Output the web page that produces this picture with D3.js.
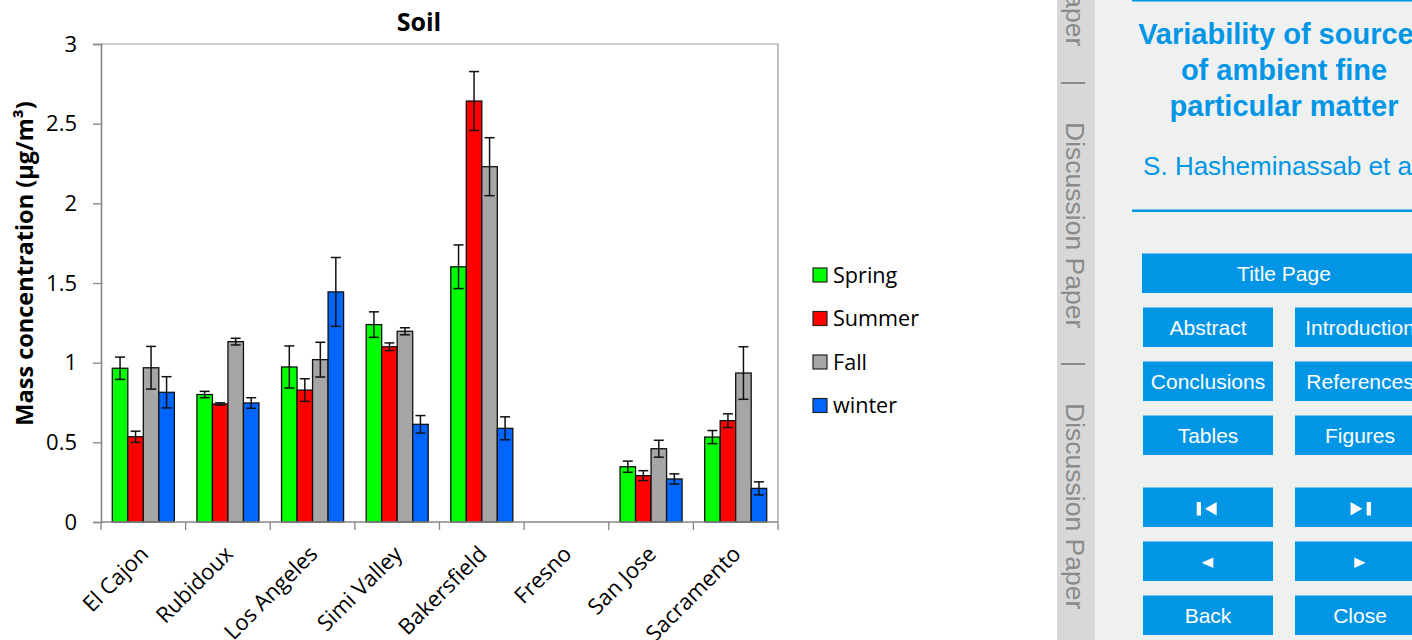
<!DOCTYPE html>
<html>
<head>
<meta charset="utf-8">
<script src="https://cdn.jsdelivr.net/npm/d3@7"></script>
<style>
  html, body { margin: 0; padding: 0; background: #ffffff; }
  svg { display: block; }
</style>
</head>
<body>
<svg id="fig" width="1412" height="640"></svg>
<script>
// Seasonal soil mass concentration (µg/m³) with error bars, by site
const cities = ["El Cajon", "Rubidoux", "Los Angeles", "Simi Valley", "Bakersfield", "Fresno", "San Jose", "Sacramento"];
const seasons = ["Spring", "Summer", "Fall", "winter"];
const seasonColors = ["#00ff00", "#ff0000", "#a6a6a6", "#0066ff"];

const springVals = [0.965, 0.80, 0.973, 1.239, 1.602, null, 0.347, 0.533];
const summerVals = [0.535, 0.741, 0.828, 1.100, 2.642, null, 0.291, 0.636];
const fallVals   = [0.968, 1.132, 1.019, 1.197, 2.230, null, 0.460, 0.935];
const winterVals = [0.814, 0.747, 1.444, 0.613, 0.588, null, 0.270, 0.211];

const springErr = [0.070, 0.020, 0.132, 0.080, 0.137, null, 0.035, 0.041];
const summerErr = [0.035, 0.007, 0.071, 0.024, 0.185, null, 0.031, 0.043];
const fallErr   = [0.134, 0.021, 0.109, 0.022, 0.182, null, 0.053, 0.165];
const winterErr = [0.098, 0.033, 0.216, 0.055, 0.072, null, 0.032, 0.041];

const yTicks = [0, 0.5, 1, 1.5, 2, 2.5, 3];

const seriesVals = [springVals, summerVals, fallVals, winterVals];
const seriesErr = [springErr, summerErr, fallErr, winterErr];

const svg = d3.select("#fig");
const chartFont = "'Open Sans', 'Noto Sans', sans-serif";
const axisGray = "#868686";

const plot = { left: 101, right: 778, top: 44, bottom: 522 };

const x0 = d3.scaleBand().domain(cities).range([plot.left, plot.right]).padding(0);
const groupPad = x0.bandwidth() * 0.1335;
const x1 = d3.scaleBand().domain(seasons).range([groupPad, x0.bandwidth() - groupPad]).padding(0);
const y = d3.scaleLinear().domain([0, 3]).range([plot.bottom, plot.top]);

// plot frame (top and right)
svg.append("path")
  .attr("d", `M${plot.left},${plot.top}H${plot.right}V${plot.bottom}`)
  .attr("fill", "none").attr("stroke", "#9a9a9a").attr("stroke-width", 1.2);

// bars
const bars = [];
cities.forEach((c, ci) => {
  seasons.forEach((s, si) => {
    const v = seriesVals[si][ci];
    if (v == null) return;
    bars.push({ city: c, season: s, si, value: v, err: seriesErr[si][ci] });
  });
});

const g = svg.append("g");
g.selectAll("rect.bar").data(bars).join("rect")
  .attr("class", "bar")
  .attr("x", d => x0(d.city) + x1(d.season))
  .attr("y", d => y(d.value))
  .attr("width", x1.bandwidth())
  .attr("height", d => y(0) - y(d.value))
  .attr("fill", d => seasonColors[d.si])
  .attr("stroke", "#111").attr("stroke-width", 1.3);

// error bars
const capHalf = 5;
const cx = d => x0(d.city) + x1(d.season) + x1.bandwidth() / 2;
const eb = g.selectAll("g.err").data(bars).join("g").attr("class", "err")
  .attr("stroke", "#111").attr("stroke-width", 1.5);
eb.append("line")
  .attr("x1", cx).attr("x2", cx)
  .attr("y1", d => y(d.value + d.err))
  .attr("y2", d => y(d.value - d.err));
eb.append("line")
  .attr("x1", d => cx(d) - capHalf).attr("x2", d => cx(d) + capHalf)
  .attr("y1", d => y(d.value + d.err)).attr("y2", d => y(d.value + d.err));
eb.append("line")
  .attr("x1", d => cx(d) - capHalf).attr("x2", d => cx(d) + capHalf)
  .attr("y1", d => y(d.value - d.err)).attr("y2", d => y(d.value - d.err));

// y axis
const yAxis = svg.append("g")
  .attr("transform", `translate(${plot.left},0)`)
  .call(d3.axisLeft(y).tickValues(yTicks).tickSize(8).tickPadding(16).tickFormat(d3.format("")));
yAxis.select(".domain").attr("stroke", axisGray).attr("stroke-width", 1.6);
yAxis.selectAll(".tick line").attr("stroke", axisGray).attr("stroke-width", 1.3);
yAxis.selectAll(".tick text")
  .attr("font-family", chartFont).attr("font-size", 22).attr("fill", "#000");

// x axis: ticks at category boundaries
const xb = svg.append("g");
xb.append("line")
  .attr("x1", plot.left).attr("x2", plot.right)
  .attr("y1", plot.bottom).attr("y2", plot.bottom)
  .attr("stroke", axisGray).attr("stroke-width", 1.6);
const edges = cities.map(c => x0(c)).concat([x0(cities[cities.length - 1]) + x0.bandwidth()]);
xb.selectAll("line.tk").data(edges).join("line").attr("class", "tk")
  .attr("x1", d => d).attr("x2", d => d)
  .attr("y1", plot.bottom).attr("y2", plot.bottom + 8)
  .attr("stroke", axisGray).attr("stroke-width", 1.3);
xb.selectAll("text").data(cities).join("text")
  .attr("transform", d => `translate(${x0(d) + x0.bandwidth() / 2 + 1},550) rotate(-45)`)
  .attr("text-anchor", "end").attr("dy", "0.35em")
  .attr("font-family", chartFont).attr("font-size", 22).attr("fill", "#000")
  .text(d => d);

// titles
svg.append("text")
  .attr("x", 419).attr("y", 31).attr("text-anchor", "middle")
  .attr("font-family", chartFont).attr("font-size", 25).attr("font-weight", "bold")
  .text("Soil");
svg.append("text")
  .attr("transform", "translate(33,263.5) rotate(-90)").attr("text-anchor", "middle")
  .attr("font-family", chartFont).attr("font-size", 23.5).attr("font-weight", "bold")
  .text("Mass concentration (µg/m³)");

// legend
const legendY = [275, 318.5, 362, 405.5];
const lg = svg.append("g").selectAll("g").data(seasons).join("g")
  .attr("transform", (d, i) => `translate(813,${legendY[i]})`);
lg.append("rect").attr("x", 0).attr("y", -7).attr("width", 14).attr("height", 14)
  .attr("fill", (d, i) => seasonColors[i]).attr("stroke", "#222").attr("stroke-width", 1.2);
lg.append("text").attr("x", 20).attr("y", 0).attr("dy", "0.35em")
  .attr("font-family", chartFont).attr("font-size", 21.6).attr("fill", "#000")
  .text(d => d);

// ---- discussion-paper side panel ----
const sideFont = "'Liberation Sans', Arial, Helvetica, sans-serif";
const blue = "#0096e5";
const side = svg.append("g");
side.append("rect").attr("x", 1057).attr("y", 0).attr("width", 38).attr("height", 640).attr("fill", "#d8d8d8");
side.append("rect").attr("x", 1095).attr("y", 0).attr("width", 317).attr("height", 640).attr("fill", "#eff0f0");

const stripWords = [
  { t: "Discussion Paper", y: -160, anchor: "start" },
  { t: "|", y: 83, anchor: "middle" },
  { t: "Discussion Paper", y: 122, anchor: "start" },
  { t: "|", y: 364, anchor: "middle" },
  { t: "Discussion Paper", y: 403, anchor: "start" }
];
side.selectAll("text.strip").data(stripWords).join("text").attr("class", "strip")
  .attr("transform", d => `translate(1066,${d.y}) rotate(90)`)
  .attr("text-anchor", d => d.anchor)
  .attr("font-family", sideFont).attr("font-size", 26.5).attr("fill", "#8a8a8a")
  .text(d => d.t);

side.append("rect").attr("x", 1132).attr("y", -1).attr("width", 290).attr("height", 2.5).attr("fill", blue);
side.append("rect").attr("x", 1132).attr("y", 209.5).attr("width", 290).attr("height", 2.5).attr("fill", blue);

const titleLines = ["Variability of sources", "of ambient fine", "particular matter"];
side.selectAll("text.ttl").data(titleLines).join("text").attr("class", "ttl")
  .attr("x", 1284).attr("y", (d, i) => 43.5 + i * 36).attr("text-anchor", "middle")
  .attr("font-family", sideFont).attr("font-size", 29).attr("font-weight", "bold").attr("fill", blue)
  .text(d => d);
side.append("text").attr("x", 1284).attr("y", 175).attr("text-anchor", "middle")
  .attr("font-family", sideFont).attr("font-size", 26).attr("fill", blue)
  .text("S. Hasheminassab et al.");

// navigation buttons
const buttons = [
  { label: "Title Page", x: 1142, y: 253.5, w: 284 },
  { label: "Abstract", x: 1143, y: 307.5, w: 130 },
  { label: "Introduction", x: 1295, y: 307.5, w: 130 },
  { label: "Conclusions", x: 1143, y: 361.5, w: 130 },
  { label: "References", x: 1295, y: 361.5, w: 130 },
  { label: "Tables", x: 1143, y: 415.5, w: 130 },
  { label: "Figures", x: 1295, y: 415.5, w: 130 },
  { label: "", icon: "first", x: 1143, y: 487.5, w: 130 },
  { label: "", icon: "last", x: 1295, y: 487.5, w: 130 },
  { label: "", icon: "prev", x: 1143, y: 541.5, w: 130 },
  { label: "", icon: "next", x: 1295, y: 541.5, w: 130 },
  { label: "Back", x: 1143, y: 595.5, w: 130 },
  { label: "Close", x: 1295, y: 595.5, w: 130 }
];
const btnH = 39.5;
const bg = side.selectAll("g.btn").data(buttons).join("g").attr("class", "btn")
  .attr("transform", d => `translate(${d.x},${d.y})`);
bg.append("rect").attr("width", d => d.w).attr("height", btnH).attr("fill", blue);
bg.filter(d => d.label).append("text")
  .attr("x", d => d.w / 2).attr("y", btnH / 2 + 7.5).attr("text-anchor", "middle")
  .attr("font-family", sideFont).attr("font-size", 21).attr("fill", "#ffffff")
  .text(d => d.label);

const iconPaths = {
  first: "M53.7,14.5h4.3v13.5h-4.3Z M62,21.2L73.7,14.5V28Z",
  last: "M55.6,14.5L67.3,21.2L55.6,28Z M71.7,14.5h4.3v13.5h-4.3Z",
  prev: "M58.7,21.2L70.3,16V26.4Z",
  next: "M59.3,16L70.7,21.2L59.3,26.4Z"
};
bg.filter(d => d.icon).append("path")
  .attr("d", d => iconPaths[d.icon]).attr("fill", "#ffffff");
</script>
</body>
</html>
